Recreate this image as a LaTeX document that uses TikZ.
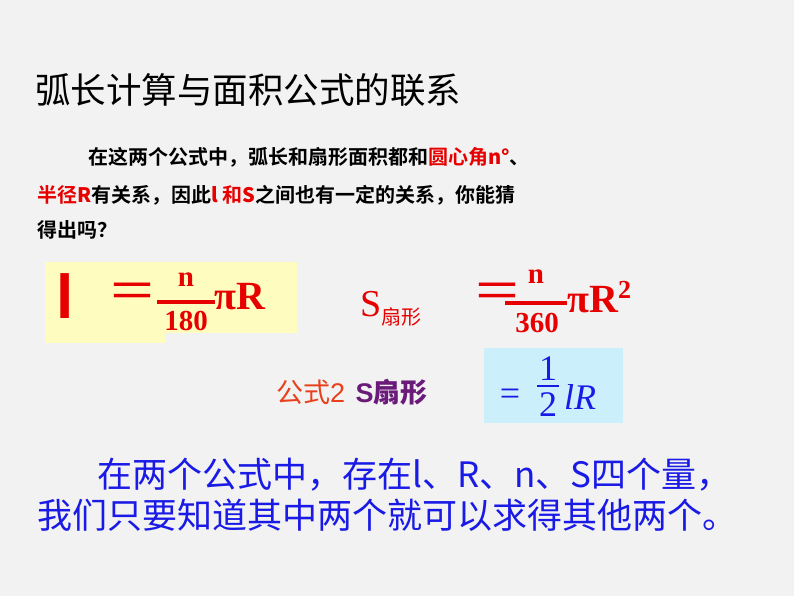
\documentclass[tikz,border=0pt]{standalone}
\usepackage{fontspec}
\setmainfont{Liberation Serif}
\setsansfont{Liberation Sans}
\newfontfamily\cjk{Noto Sans CJK SC}
\newfontfamily\cjkb{Noto Sans CJK SC Bold}
\usetikzlibrary{positioning}
\definecolor{bgray}{HTML}{F2F2F2}
\definecolor{fred}{HTML}{E60000}
\definecolor{ored}{HTML}{E8401C}
\definecolor{tblue}{HTML}{1A1AE6}
\definecolor{vio}{HTML}{6A1B7A}
\begin{document}
\begin{tikzpicture}[x=1pt,y=-1pt]
    \tikzstyle{line}=[anchor=west,inner sep=0pt,font=\cjkb\fontsize{20}{20}\selectfont]
    \tikzstyle{big}=[anchor=west,inner sep=0pt,font=\cjk\fontsize{35}{35}\selectfont,text=tblue]
    \tikzstyle{frm}=[inner sep=0pt,text=fred,font=\bfseries\fontsize{40}{40}\selectfont]
    \tikzstyle{num}=[frm,font=\bfseries\fontsize{29}{29}\selectfont]
    \tikzstyle{eqs}=[frm,font=\cjk\fontsize{50}{50}\selectfont]
    \tikzstyle{bar}=[draw=fred,line width=4pt]
    \tikzstyle{blu}=[inner sep=0pt,text=tblue,font=\fontsize{36}{36}\selectfont]
    \fill[bgray] (0,0) rectangle (794,596);
    \useasboundingbox (0,0) rectangle (794,596);
    % boxes
    \fill[yellow!25] (45,262) rectangle (297,333);
    \fill[yellow!25] (45,333) rectangle (165,343);
    \fill[cyan!20] (484,348) rectangle (623,423);
    % title and text
    \node[anchor=west,inner sep=0pt,font=\cjk\fontsize{35.5}{35.5}\selectfont] (title) at (35,90) {弧长计算与面积公式的联系};
    \node[line] (para1) at (88,157) {在这两个公式中，弧长和扇形面积都和\textcolor{fred}{圆心角\textbf{n°}}、};
    \node[line] (para2) at (37,195) {\textcolor{fred}{半径\textbf{R}}有关系，因此\textcolor{fred}{\textbf{l} 和\textbf{S}}之间也有一定的关系，你能猜};
    \node[line] (para3) at (37,230) {得出吗？};
    % formula 1
    \node[frm,font=\sffamily\bfseries\fontsize{62}{62}\selectfont] (arcl) at (65,296) {l};
    \node[eqs] (arceq) at (132,296) {＝};
    \coordinate (bar1a) at (157,302);
    \coordinate (bar1b) at (215,302);
    \draw[bar] (bar1a) -- (bar1b);
    \node[num] (n1) at (186,280) {n};
    \node[num] (d1) at (186,321) {180};
    \node[frm,anchor=west] (pr1) at (214,297) {πR};
    % formula 2
    \node[frm,anchor=base west,font=\fontsize{38}{38}\selectfont] (secs) at (360,316) {S\raisebox{-8pt}{\cjk\fontsize{20}{20}\selectfont 扇形}};
    \node[eqs] (seceq) at (497,296) {＝};
    \coordinate (bar2a) at (505,303);
    \coordinate (bar2b) at (567,303);
    \draw[bar] (bar2a) -- (bar2b);
    \node[num] (n2) at (536,277) {n};
    \node[num] (d2) at (537,323) {360};
    \node[frm,anchor=west] (pr2) at (567,297) {πR\raisebox{14pt}{\fontsize{26}{26}\selectfont 2}};
    % formula 3
    \node[anchor=base west,inner sep=0pt,text=ored,font=\cjk\fontsize{27}{27}\selectfont] (f2) at (276,402) {公式\sffamily 2};
    \node[inner sep=0pt,text=vio,font=\fontsize{27}{27}\selectfont,right=10pt of f2.base east,anchor=base west] (f2s) {\sffamily\bfseries S\cjk 扇形};
    \node[blu] (f2eq) at (510,397) {=};
    \coordinate (bar3a) at (537,386);
    \coordinate (bar3b) at (559,386);
    \draw[draw=tblue,line width=1.2pt] (bar3a) -- (bar3b);
    \node[blu] (n3) at (548,369) {1};
    \node[blu] (d3) at (548,405) {2};
    \node[blu,anchor=west] (f2lr) at (564,397) {\textit{lR}};
    % bottom
    \node[big] (sum1) at (97,475) {在两个公式中，存在l、R、n、S四个量，};
    \node[big] (sum2) at (37,515) {我们只要知道其中两个就可以求得其他两个。};
\end{tikzpicture}
\end{document}
